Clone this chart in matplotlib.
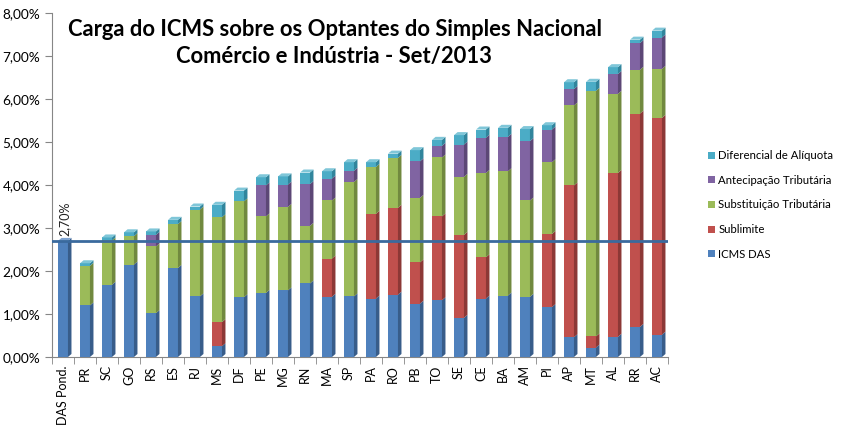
import matplotlib
matplotlib.use("Agg")
import matplotlib.pyplot as plt
from matplotlib.patches import Polygon, Patch
from matplotlib.ticker import FuncFormatter, MultipleLocator
import numpy as np

plt.rcParams['font.family'] = ['Lato', 'DejaVu Sans']

categories = ['DAS Pond.', 'PR', 'SC', 'GO', 'RS', 'ES', 'RJ', 'MS', 'DF', 'PE',
              'MG', 'RN', 'MA', 'SP', 'PA', 'RO', 'PB', 'TO', 'SE', 'CE',
              'BA', 'AM', 'PI', 'AP', 'MT', 'AL', 'RR', 'AC']
icms_das = [2.70, 1.20, 1.68, 2.15, 1.02, 2.07, 1.41, 0.25, 1.39, 1.49,
            1.55, 1.71, 1.40, 1.41, 1.36, 1.45, 1.24, 1.32, 0.91, 1.36,
            1.43, 1.40, 1.16, 0.46, 0.22, 0.47, 0.70, 0.52]
sublimite = [0, 0, 0, 0, 0, 0, 0, 0.56, 0, 0,
             0, 0, 0.89, 0, 1.97, 2.02, 0.96, 1.95, 1.93, 0.96,
             0, 0, 1.70, 3.53, 0.26, 3.81, 4.96, 5.04]
substituicao = [0, 0.92, 1.03, 0.66, 1.55, 1.02, 2.02, 2.44, 2.23, 1.78,
                1.94, 1.34, 1.35, 2.66, 1.09, 1.16, 1.50, 1.37, 1.35, 1.96,
                2.89, 2.24, 1.67, 1.86, 5.71, 1.84, 1.02, 1.14]
antecipacao = [0, 0, 0, 0, 0.27, 0, 0, 0, 0, 0.72,
               0.52, 0.97, 0.51, 0.26, 0, 0, 0.85, 0.27, 0.75, 0.82,
               0.80, 1.38, 0.76, 0.38, 0, 0.46, 0.62, 0.73]
diferencial = [0, 0.06, 0.07, 0.09, 0.08, 0.10, 0.07, 0.29, 0.25, 0.19,
               0.19, 0.27, 0.17, 0.20, 0.11, 0.10, 0.26, 0.14, 0.22, 0.19,
               0.21, 0.28, 0.10, 0.16, 0.21, 0.16, 0.08, 0.16]
das_ponderado = 2.70

series = [
    ('ICMS DAS', icms_das, '#4F81BD', '#385D8A', '#7EA3D1'),
    ('Sublimite', sublimite, '#C0504D', '#8C3836', '#D6817F'),
    ('Substituição Tributária', substituicao, '#9BBB59', '#71893F', '#B9D08A'),
    ('Antecipação Tributária', antecipacao, '#8064A2', '#5C4776', '#A390BC'),
    ('Diferencial de Alíquota', diferencial, '#4BACC6', '#31859C', '#7FC6D8'),
]

fig = plt.figure(figsize=(8.44, 4.34), dpi=100)
ax = fig.add_axes([52/844, 1-357/434, 616/844, (357-13)/434])

x = np.arange(len(categories))
w = 0.45
dx = 0.16
dy = 0.07

bottom = np.zeros(len(categories))
top_color = ['#7EA3D1'] * len(categories)
for name, vals, col, dark, light in series:
    vals = np.array(vals, dtype=float)
    ax.bar(x, vals, w, bottom=bottom, color=col, zorder=3, linewidth=0)
    for i in range(len(x)):
        if vals[i] > 0:
            xr = x[i] + w/2
            b = bottom[i]
            t = bottom[i] + vals[i]
            ax.add_patch(Polygon([(xr, b), (xr+dx, b+dy), (xr+dx, t+dy), (xr, t)],
                                 closed=True, facecolor=dark, edgecolor='none', zorder=3))
            top_color[i] = light
    bottom = bottom + vals

for i in range(len(x)):
    xl = x[i] - w/2
    xr = x[i] + w/2
    t = bottom[i]
    ax.add_patch(Polygon([(xl, t), (xl+dx, t+dy), (xr+dx, t+dy), (xr, t)],
                         closed=True, facecolor=top_color[i], edgecolor='none', zorder=3))

ax.axhline(das_ponderado, color='#3A6A9E', lw=2, zorder=4)
ax.text(x[0] + 0.05, bottom[0] + dy + 0.05, '2,70%', rotation=90, ha='center',
        va='bottom', fontsize=9, color='#222222')

ax.set_xlim(-0.5, len(categories) - 0.5)
ax.set_ylim(0, 8)
ax.yaxis.set_major_locator(MultipleLocator(1))
ax.yaxis.set_major_formatter(FuncFormatter(lambda v, p: f'{v:.2f}%'.replace('.', ',')))
ax.set_xticks(x)
ax.set_xticklabels(categories, rotation=90, fontsize=9)
ax.set_xticks(np.arange(len(categories) + 1) - 0.5, minor=True)
ax.tick_params(axis='x', which='major', length=0, pad=6)
ax.tick_params(axis='x', which='minor', length=5, color='#868686', direction='out')
ax.tick_params(axis='y', length=5, color='#868686', labelsize=9.8, direction='out')
for s in ['top', 'right']:
    ax.spines[s].set_visible(False)
for s in ['left', 'bottom']:
    ax.spines[s].set_color('#868686')

fig.text(335/844, 1-30/434, 'Carga do ICMS sobre os Optantes do Simples Nacional',
         ha='center', va='center', fontsize=15.8, fontweight='bold')
fig.text(334/844, 1-57/434, 'Comércio e Indústria - Set/2013',
         ha='center', va='center', fontsize=15.8, fontweight='bold')

handles = [Patch(facecolor=s[2], edgecolor='none', label=s[0]) for s in reversed(series)]
fig.legend(handles=handles, loc='center left', bbox_to_anchor=(698/844, 1-205/434),
           frameon=False, fontsize=8.2, handlelength=0.6, handleheight=0.6,
           handletextpad=0.3, labelspacing=1.2)

fig.savefig('out.png', dpi=100)
